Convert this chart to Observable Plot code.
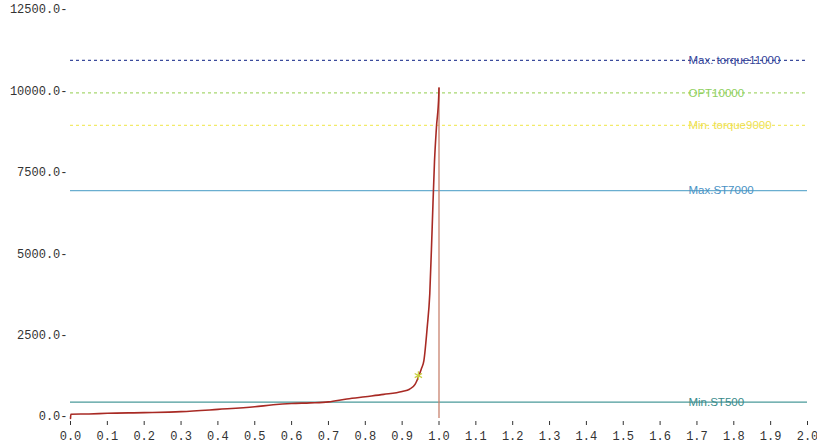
<!DOCTYPE html>
<html>
<head>
<meta charset="utf-8">
<script src="https://cdn.jsdelivr.net/npm/d3@7"></script>
<script src="https://cdn.jsdelivr.net/npm/@observablehq/plot@0.6"></script>
<style>
  html, body { margin: 0; padding: 0; background: #fff; }
</style>
</head>
<body>
<div id="chart"></div>
<script>
// Curve data
const curveX = [0, 0.001, 0.05, 0.1, 0.2, 0.3, 0.4, 0.5, 0.55, 0.6, 0.65, 0.7, 0.75, 0.8, 0.85, 0.9, 0.92, 0.935, 0.945, 0.952, 0.959, 0.968, 0.975, 0.9815, 0.9878, 0.993, 0.9995, 1.0];
const curveY = [0, 130, 140, 160, 180, 210, 280, 360, 420, 460, 480, 510, 600, 670, 740, 830, 900, 1050, 1300, 1520, 1780, 2800, 3830, 5870, 7900, 8935, 9960, 10150];

// Marker point
const markerX = [0.944];
const markerY = [1320];

// Limit lines
const limitNames = ["Max. torque11000", "OPT10000", "Min. torque9000", "Max.ST7000", "Min.ST500"];
const limitValues = [11000, 10000, 9000, 7000, 500];
const limitColors = ["#3c4c9c", "#a8d870", "#f2ea6a", "#6aaed0", "#4a9a9a"];
const limitTextColors = ["#34449a", "#8fd060", "#eee050", "#4a92c4", "#3a8a8a"];
const limitDashed = [true, true, true, false, false];

// Ticks
const xTicks = [0, 0.1, 0.2, 0.3, 0.4, 0.5, 0.6, 0.7, 0.8, 0.9, 1.0, 1.1, 1.2, 1.3, 1.4, 1.5, 1.6, 1.7, 1.8, 1.9, 2.0];
const yTicks = [0, 2500, 5000, 7500, 10000, 12500];

const curve = curveX.map((x, i) => ({x, y: curveY[i]}));
const limits = limitNames.map((name, i) => ({name, value: limitValues[i], color: limitColors[i], textColor: limitTextColors[i], dashed: limitDashed[i]}));
const marker = markerX.map((x, i) => ({x, y: markerY[i]}));

const chart = Plot.plot({
  width: 817,
  height: 448,
  marginLeft: 70,
  marginRight: 10,
  marginTop: 11,
  marginBottom: 30,
  style: {fontFamily: "Liberation Mono", fontSize: "12px", color: "#333", background: "#fff"},
  x: {domain: [0, 2]},
  y: {domain: [0, 12500]},
  marks: [
    Plot.axisX({ticks: xTicks, tickFormat: d => d.toFixed(1), tickSize: 4, tickPadding: 6, fontSize: 12, label: null, dy: 3}),
    Plot.axisY({ticks: yTicks, tickFormat: d => d.toFixed(1) + "-", tickSize: 0, tickPadding: 3, fontSize: 12, label: null, dy: -2}),
    Plot.ruleY(limits.filter(d => d.dashed), {y: "value", x1: 0, x2: 2, stroke: "color", strokeWidth: 1.3, strokeDasharray: "3,3"}),
    Plot.ruleY(limits.filter(d => !d.dashed), {y: "value", x1: 0, x2: 2, stroke: "color", strokeWidth: 1.3}),
    Plot.text(limits, {x: 1.677, y: "value", text: "name", fill: "textColor", textAnchor: "start", fontFamily: "Liberation Sans", fontSize: 11.5}),
    Plot.ruleX([1.0], {y1: 0, y2: 10150, stroke: "#c8826e", strokeWidth: 1.3}),
    Plot.line(curve, {x: "x", y: "y", stroke: "#a82a24", strokeWidth: 1.6, curve: "monotone-x"}),
    Plot.dot(marker, {x: "x", y: "y", symbol: "asterisk", r: 4, stroke: "#c8d040", strokeWidth: 1.2})
  ]
});
document.getElementById("chart").appendChild(chart);
</script>
</body>
</html>
